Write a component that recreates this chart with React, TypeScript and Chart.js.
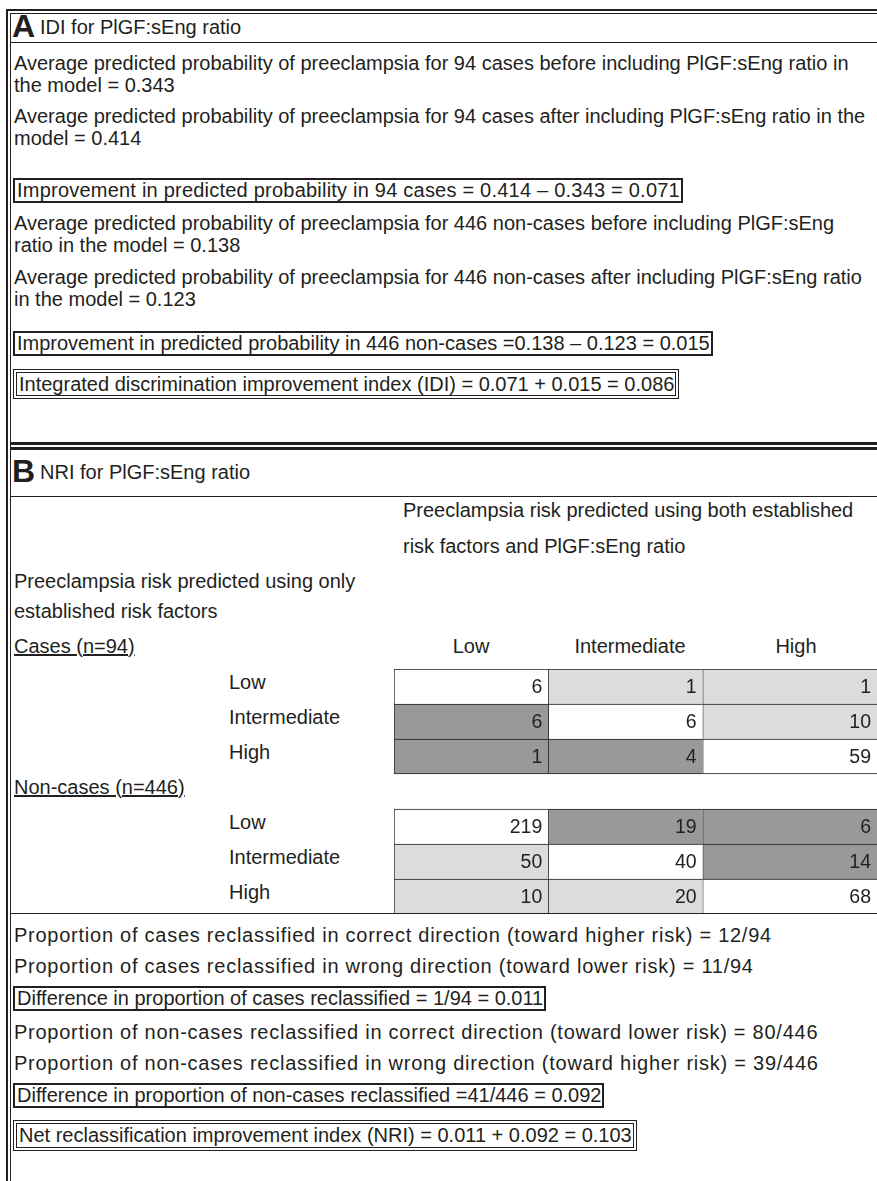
import React, { useEffect, useRef } from "react";
import { Chart, registerables } from "chart.js";

Chart.register(...registerables);

// ---- data ----
const RISK_LEVELS = ["Low", "Intermediate", "High"];
const CASES_COUNTS = [
  [6, 1, 1],
  [6, 6, 10],
  [1, 4, 59],
];
const NONCASES_COUNTS = [
  [219, 19, 6],
  [50, 40, 14],
  [10, 20, 68],
];
const ROW_KEYS = ["c-Low", "c-Intermediate", "c-High", "gap", "n-Low", "n-Intermediate", "n-High"];

const INK = "#231f20";
const WHITE = "#ffffff";
const LIGHT = "#dcdcde";
const DARK = "#98999b";
const FONT = '"Liberation Sans", Arial, sans-serif';
const XMAX = 3.13;

// shade: cases moving up = correct (light), down = wrong (dark); non-cases reversed
function shade(group: "c" | "n", row: number, col: number) {
  if (row === col) return WHITE;
  const up = col > row;
  if (group === "c") return up ? LIGHT : DARK;
  return up ? DARK : LIGHT;
}

function rowInfo(r: number): { group: "c" | "n"; row: number } | null {
  if (r < 3) return { group: "c", row: r };
  if (r === 3) return null;
  return { group: "n", row: r - 4 };
}

function countAt(r: number, col: number) {
  const info = rowInfo(r);
  if (!info) return null;
  const src = info.group === "c" ? CASES_COUNTS : NONCASES_COUNTS;
  return src[info.row][col];
}

const cellLabelPlugin = {
  id: "cellLabels",
  afterDatasetsDraw(chart: any) {
    const ctx = chart.ctx;
    ctx.save();
    ctx.font = `19.5px ${FONT}`;
    ctx.fillStyle = INK;
    ctx.textAlign = "right";
    ctx.textBaseline = "middle";
    chart.data.datasets.forEach((ds: any, di: number) => {
      const meta = chart.getDatasetMeta(di);
      meta.data.forEach((el: any, ri: number) => {
        const v = countAt(ri, di);
        if (v === null || ds.data[ri] === null) return;
        const right = Math.min(Math.max(el.x, el.base), chart.chartArea.right);
        ctx.fillText(String(v), right - 6, el.y + 1);
      });
    });
    ctx.restore();
  },
};

function CellChart() {
  const ref = useRef<HTMLCanvasElement | null>(null);
  useEffect(() => {
    if (!ref.current) return;
    const datasets = RISK_LEVELS.map((lvl, col) => ({
      label: lvl,
      data: ROW_KEYS.map((_, r) =>
        rowInfo(r) ? [col, col === 2 ? XMAX : col + 1] : null
      ),
      backgroundColor: ROW_KEYS.map((_, r) => {
        const info = rowInfo(r);
        return info ? shade(info.group, info.row, col) : WHITE;
      }),
      borderColor: INK,
      borderWidth: (c: any) => {
        const r = c.dataIndex;
        return { top: 1, left: 1, right: 0, bottom: r === 2 || r === 6 ? 1 : 0 };
      },
      borderSkipped: false as any,
      barPercentage: 1,
      categoryPercentage: 1,
      grouped: false,
    }));
    const chart = new Chart(ref.current, {
      type: "bar",
      data: { labels: ROW_KEYS, datasets: datasets as any },
      options: {
        indexAxis: "y",
        animation: false,
        responsive: false,
        maintainAspectRatio: false,
        layout: { padding: 0 },
        plugins: { legend: { display: false }, tooltip: { enabled: false } },
        scales: {
          x: { type: "linear", min: 0, max: XMAX, display: false },
          y: { type: "category", display: false, offset: true },
        },
      },
      plugins: [cellLabelPlugin],
    });
    return () => chart.destroy();
  }, []);
  return (
    <canvas
      ref={ref}
      width={483}
      height={245}
      style={{ position: "absolute", left: 394, top: 669, width: 483, height: 245 }}
    />
  );
}

const FS = 20;

function T({ x, y, children, size = FS, style = {} }: any) {
  const lh = Math.round(size * 1.25);
  return (
    <div
      style={{
        position: "absolute",
        left: x,
        top: y - lh / 2,
        height: lh,
        lineHeight: `${lh}px`,
        fontSize: size,
        whiteSpace: "nowrap",
        ...style,
      }}
    >
      {children}
    </div>
  );
}

function Box({ y, h, double = false, ls = 0, children }: any) {
  const b = double ? 4 : 2;
  return (
    <div
      style={{
        position: "absolute",
        left: 13,
        top: y,
        height: h - 2 * b,
        lineHeight: `${h - 2 * b}px`,
        fontSize: FS,
        whiteSpace: "nowrap",
        letterSpacing: ls,
        border: `${b}px ${double ? "double" : "solid"} ${INK}`,
        padding: "0 1px 0 2px",
      }}
    >
      {children}
    </div>
  );
}

function HLine({ y, h = 1, x = 10 }: any) {
  return <div style={{ position: "absolute", left: x, right: 0, top: y, height: h, background: INK }} />;
}

const WIDE = { letterSpacing: 0.75 };

export default function App() {
  return (
    <div
      style={{
        position: "absolute",
        left: 0,
        top: 0,
        width: 877,
        height: 1181,
        overflow: "hidden",
        background: "#fff",
        fontFamily: FONT,
        color: INK,
      }}
    >
      {/* outer frame */}
      <div style={{ position: "absolute", left: 6, right: 0, top: 9, height: 1.5, background: INK }} />
      <div style={{ position: "absolute", left: 10, right: 0, top: 12.5, height: 1, background: INK }} />
      <div style={{ position: "absolute", left: 6, top: 9, bottom: 0, width: 1.5, background: INK }} />
      <div style={{ position: "absolute", left: 10, top: 12.5, bottom: 0, width: 1, background: INK }} />

      {/* Panel A */}
      <T x={12} y={26} size={32} style={{ fontWeight: "bold" }}>A</T>
      <T x={40} y={27} size={20}>IDI for PlGF:sEng ratio</T>
      <HLine y={42} />
      <T x={14} y={63}>Average predicted probability of preeclampsia for 94 cases before including PlGF:sEng ratio in</T>
      <T x={14} y={85}>the model = 0.343</T>
      <T x={14} y={116}>Average predicted probability of preeclampsia for 94 cases after including PlGF:sEng ratio in the</T>
      <T x={14} y={138}>model = 0.414</T>
      <Box y={178} h={25} ls={0.22}>Improvement in predicted probability in 94 cases = 0.414 – 0.343 = 0.071</Box>
      <T x={14} y={223}>Average predicted probability of preeclampsia for 446 non-cases before including PlGF:sEng</T>
      <T x={14} y={245}>ratio in the model = 0.138</T>
      <T x={14} y={277}>Average predicted probability of preeclampsia for 446 non-cases after including PlGF:sEng ratio</T>
      <T x={14} y={299}>in the model = 0.123</T>
      <Box y={331} h={25}>Improvement in predicted probability in 446 non-cases =0.138 – 0.123 = 0.015</Box>
      <Box y={369} h={30} double>Integrated discrimination improvement index (IDI) = 0.071 + 0.015 = 0.086</Box>

      <HLine y={442} h={3} />
      <HLine y={447} h={3} />

      {/* Panel B */}
      <T x={12} y={471} size={32} style={{ fontWeight: "bold" }}>B</T>
      <T x={40} y={472} size={20}>NRI for PlGF:sEng ratio</T>
      <HLine y={496} />
      <T x={403} y={510}>Preeclampsia risk predicted using both established</T>
      <T x={403} y={546}>risk factors and PlGF:sEng ratio</T>
      <T x={14} y={581}>Preeclampsia risk predicted using only</T>
      <T x={14} y={611}>established risk factors</T>
      <T x={14} y={646} style={{ textDecoration: "underline" }}>Cases (n=94)</T>
      {RISK_LEVELS.map((l, i) => (
        <T key={l} x={[471, 630, 796][i]} y={646} style={{ transform: "translateX(-50%)" }}>{l}</T>
      ))}
      {RISK_LEVELS.map((l, i) => (
        <T key={"c" + l} x={229} y={682 + i * 35}>{l}</T>
      ))}
      <T x={14} y={787} style={{ textDecoration: "underline" }}>Non-cases (n=446)</T>
      {RISK_LEVELS.map((l, i) => (
        <T key={"n" + l} x={229} y={822 + i * 35}>{l}</T>
      ))}
      <CellChart />
      <HLine y={913} />

      <T x={14} y={935} style={WIDE}>Proportion of cases reclassified in correct direction (toward higher risk) = 12/94</T>
      <T x={14} y={966} style={WIDE}>Proportion of cases reclassified in wrong direction (toward lower risk) = 11/94</T>
      <Box y={986} h={25}>Difference in proportion of cases reclassified = 1/94 = 0.011</Box>
      <T x={14} y={1032} style={WIDE}>Proportion of non-cases reclassified in correct direction (toward lower risk) = 80/446</T>
      <T x={14} y={1063} style={WIDE}>Proportion of non-cases reclassified in wrong direction (toward higher risk) = 39/446</T>
      <Box y={1083} h={25}>Difference in proportion of non-cases reclassified =41/446 = 0.092</Box>
      <Box y={1120} h={31} double>Net reclassification improvement index (NRI) = 0.011 + 0.092 = 0.103</Box>
    </div>
  );
}
